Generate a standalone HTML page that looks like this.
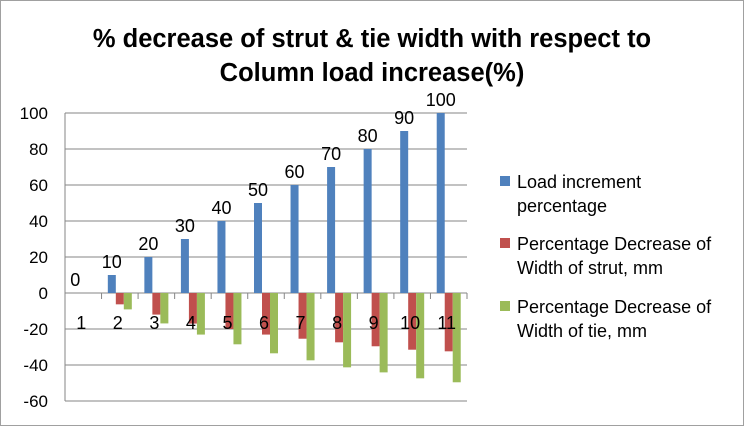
<!DOCTYPE html>
<html><head><meta charset="utf-8"><style>
body{margin:0;background:#fff}
svg{display:block;font-family:"Liberation Sans",sans-serif}
</style></head><body>
<svg id="c" width="744" height="426">
<rect x="0.5" y="0.5" width="743" height="425" fill="#fff" stroke="#a0a0a0"/>
<text x="372" y="47" text-anchor="middle" font-size="25.5" font-weight="bold">% decrease of strut &amp; tie width with respect to</text>
<text x="372" y="81" text-anchor="middle" font-size="25.5" font-weight="bold">Column load increase(%)</text>
<g id="plot"></g>
<g>
<rect x="500" y="176" width="10" height="10" fill="#4f81bd"/>
<text x="517" y="188" font-size="18">Load increment</text>
<text x="517" y="212" font-size="18">percentage</text>
<rect x="500" y="238" width="10" height="10" fill="#c0504d"/>
<text x="517" y="250" font-size="18">Percentage Decrease of</text>
<text x="517" y="274" font-size="18">Width of strut, mm</text>
<rect x="500" y="301" width="10" height="10" fill="#9bbb59"/>
<text x="517" y="313" font-size="18">Percentage Decrease of</text>
<text x="517" y="337" font-size="18">Width of tie, mm</text>
</g>
</svg>
<script>
const categories=["1","2","3","4","5","6","7","8","9","10","11"];
const loadValues=[0,10,20,30,40,50,60,70,80,90,100];
const strutValues=[0,-6.3,-12,-17,-20,-23.1,-25.4,-27.4,-29.6,-31.5,-32.4];
const tieValues=[0,-9.1,-16.9,-23.1,-28.5,-33.5,-37.4,-41.3,-44.1,-47.4,-49.6];
const yTicks=[-60,-40,-20,0,20,40,60,80,100];

const NS="http://www.w3.org/2000/svg";
const g=document.getElementById('plot');
const L=65,R=467,Y0=293,S=1.8;
const cw=(R-L)/categories.length;
const y=v=>Y0-v*S;
const cx=i=>L+cw*(i+0.5);
function mk(t,a){const e=document.createElementNS(NS,t);for(const k in a)e.setAttribute(k,a[k]);g.appendChild(e);return e;}
yTicks.forEach(t=>{
  const l=mk('line',{x1:L,x2:R,y1:y(t),y2:y(t),stroke:'#868686','stroke-width':1});
  
  
  const tx=mk('text',{x:48,y:y(t)+6,'text-anchor':'end','font-size':17});
  tx.textContent=t;
  
  
});
const ax=mk('line',{x1:L,x2:L,y1:y(-60),y2:y(100),stroke:'#868686'});


for(let i=0;i<=categories.length;i++){
  const t=mk('line',{x1:L+cw*i,x2:L+cw*i,y1:Y0,y2:Y0+6,stroke:'#868686'});
  
  
}
const bw=8;
const series=[[loadValues,'#4f81bd','load'],[strutValues,'#c0504d','strut'],[tieValues,'#9bbb59','tie']];
categories.forEach((c,i)=>{
  series.forEach(([vals,col,nm],k)=>{
    const v=vals[i];const x=cx(i)-1.5*bw+k*bw;
    const r=mk('rect',{x:x,y:Math.min(y(v),Y0),width:bw,height:Math.abs(v*S),fill:col});
    
    
  });
  const bx=cx(i)-bw;
  const lb=mk('text',{x:bx,y:y(loadValues[i])-7,'text-anchor':'middle','font-size':18});
  lb.textContent=loadValues[i];
  
  
  const cl=mk('text',{x:cx(i)-2,y:329,'text-anchor':'middle','font-size':18});
  cl.textContent=c;
  
  
});
</script>
</body></html>
